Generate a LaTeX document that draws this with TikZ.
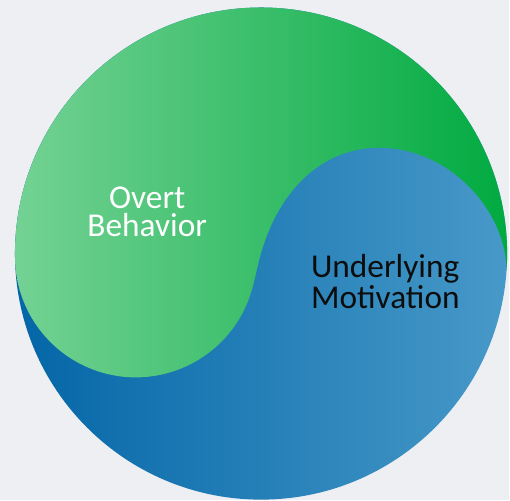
\documentclass[tikz,border=0pt]{standalone}
\usepackage{fontspec}
\setmainfont{Carlito}

\definecolor{bgcol}{HTML}{EEEFF3}
\definecolor{greenL}{HTML}{74D294}
\definecolor{greenM}{HTML}{20B65A}
\definecolor{greenR}{HTML}{00AA40}
\definecolor{blueL}{HTML}{0466A7}
\definecolor{blueM}{HTML}{187BB3}
\definecolor{blueR}{HTML}{4799C8}

\tikzset{
  lobetext/.style={inner sep=0pt,font=\fontsize{19}{15.8}\selectfont},
}

\begin{document}
\begin{tikzpicture}
        \fill[bgcol](-5.23,-4.94)rectangle(4.97,5.08);

        % lower half
        \shade[left color=blueL,middle color=blueM,right color=blueR](0,0)circle(4.93);

        % upper half with the s-curve
        \shade[left color=greenL,middle color=greenM,right color=greenR]
            (180.7:4.93)arc[start angle=180.7,end angle=-4,radius=4.93]
            ..controls(4.918,0.85)and(3.78,2.12)..(2.37,2.12)
            ..controls(1.2,2.12)and(0.32,1.24)..(-0.03,-0.1)
            ..controls(-0.095,-0.35)and(-0.15,-0.653)..(-0.236,-0.888)
            arc[start angle=-20,end angle=-180,radius=2.42]
            --cycle;

        \node[lobetext,white,align=center](overt)at(-2.28,0.84){Overt\\Behavior};
        \node[lobetext,black!95,align=left](motive)at(2.49,-0.56){Underlying\\Motivation};
    \end{tikzpicture}
\end{document}
